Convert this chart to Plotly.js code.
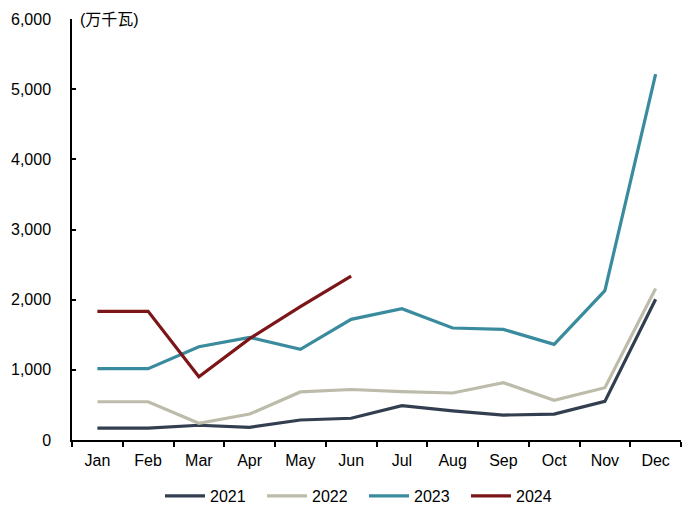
<!DOCTYPE html>
<html><head><meta charset="utf-8">
<script src="https://cdn.plot.ly/plotly-3.0.1.min.js"></script>
<style>html,body{margin:0;padding:0;background:#fff}#chart{width:700px;height:514px}</style>
</head><body><div id="chart"></div>
<script>
const months = ["Jan","Feb","Mar","Apr","May","Jun","Jul","Aug","Sep","Oct","Nov","Dec"];
const s2021 = [170,170,210,180,285,310,490,415,355,370,550,2005];
const s2022 = [545,545,238,370,685,720,690,670,817,565,745,2160];
const s2023 = [1016,1016,1330,1463,1292,1720,1871,1596,1577,1363,2128,5215];
const s2024 = [1834,1834,902,1445,1900,2337];
const names = ["2021","2022","2023","2024"];
const colors = ["#333f50","#bdbcab","#3a8b9e","#7c1518"];
const series = [s2021,s2022,s2023,s2024];
const traces = series.map((s,i)=>({
  type:"scatter", mode:"lines", name:names[i],
  x: months.slice(0,s.length), y:s,
  line:{color:colors[i], width:3.2}
}));
const layout = {
  width:700, height:514,
  margin:{l:72,r:19,t:19,b:74},
  paper_bgcolor:"#fff", plot_bgcolor:"#fff",
  font:{family:"Liberation Sans, Arial, sans-serif", size:16, color:"#000"},
  showlegend:true,
  legend:{orientation:"h", xref:"container", yref:"container", x:0.52, xanchor:"center", y:0.035, yanchor:"middle",
    font:{size:16}, entrywidth:47, itemwidth:40, tracegroupgap:0},
  xaxis:{type:"category", categoryorder:"array", categoryarray:months,
    range:[-0.5,11.5], showline:true, linecolor:"#000", linewidth:1.5,
    ticks:"outside", tickson:"boundaries", ticklen:5, tickcolor:"#000", tickwidth:1.5,
    showgrid:false, zeroline:false, tickfont:{size:16}, ticklabelstandoff:5, automargin:false},
  yaxis:{range:[0,6000], dtick:1000, tickformat:",", showline:true, linecolor:"#000", linewidth:1.5,
    ticks:"inside", ticklen:4, tickcolor:"#000", tickwidth:1.5, showgrid:false, zeroline:false,
    tickfont:{size:16}, ticklabelstandoff:16, automargin:false},
  annotations:[{text:"(万千瓦)", xref:"paper", yref:"paper", x:0.01, y:1.0, xanchor:"left", yanchor:"middle",
    showarrow:false, font:{size:16, family:"Liberation Sans, Noto Sans CJK SC, sans-serif"}}]
};
Plotly.newPlot("chart", traces, layout, {displayModeBar:false});
</script></body></html>
